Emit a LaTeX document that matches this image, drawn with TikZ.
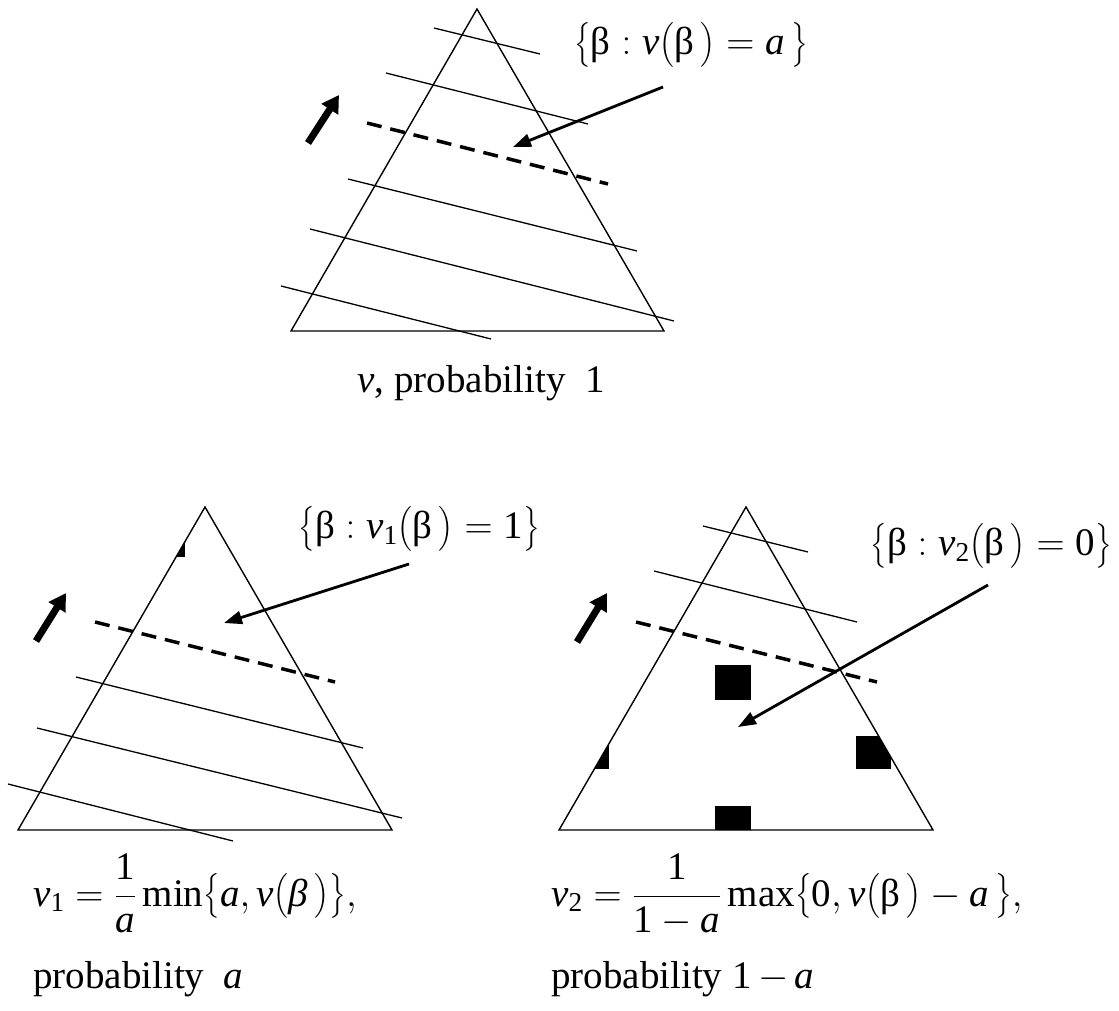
\RequirePackage{fix-cm}
\documentclass[tikz,border=0pt]{standalone}
\usepackage{amsmath}
\usepackage{fontspec}
\setmainfont{Liberation Serif}
\usetikzlibrary{arrows.meta}

\tikzset{
  tri/.style={line width=1.4pt},
  hatch/.style={line width=1.3pt},
  cut/.style={line width=3.5pt, dash pattern=on 15pt off 9pt},
  push/.style={line width=7pt, -{Triangle[length=17pt,width=19pt]}},
  ptr/.style={line width=2.8pt, -{Triangle[length=18pt,width=13pt]}},
  lbl/.style={inner sep=0pt, font=\fontsize{39}{47}\selectfont}
}

\begin{document}
\begin{tikzpicture}[x=1pt,y=-1pt]
\useasboundingbox (0,0) rectangle (1119,1011);

% v, probability 1
\begin{scope}[shift={(477,9)}]
  \draw[tri] (0,0) -- (-186,322) -- (187,322) -- cycle;
  \foreach \xa/\ya/\xb/\yb in {-43/19/63/45, -91/64/111/115, -129/170/160/242, -167/220/197/312, -196/277/14/330}
    {\draw[hatch] (\xa,\ya) -- (\xb,\yb);}
  \draw[cut] (-110,114) -- (131,175);
  \draw[push] (-169,134) -- (-138,86);
\end{scope}

% v_1, probability a
\begin{scope}[shift={(205,507)}]
  \begin{scope}
    \clip (0,0) -- (-187,323) -- (187,323) -- cycle;
    \fill (-55,15) rectangle (-20,50);
  \end{scope}
  \draw[tri] (0,0) -- (-187,323) -- (187,323) -- cycle;
  \foreach \xa/\ya/\xb/\yb in {-129/170/158/241, -168/221/197/311, -197/277/28/334}
    {\draw[hatch] (\xa,\ya) -- (\xb,\yb);}
  \draw[cut] (-110,115) -- (130,175);
  \draw[push] (-169,134) -- (-139,86);
\end{scope}

% v_2, probability 1-a
\begin{scope}[shift={(746,507)}]
  \begin{scope}
    \clip (0,0) -- (-187,323) -- (187,323) -- cycle;
    \fill (-31,158) rectangle (5,193);
    \fill (110,229) rectangle (145,262);
    \fill (-173,229) rectangle (-137,262);
    \fill (-31,299) rectangle (5,334);
  \end{scope}
  \draw[tri] (0,0) -- (-187,323) -- (187,323) -- cycle;
  \foreach \xa/\ya/\xb/\yb in {-43/19/62/45, -92/64/111/115}
    {\draw[hatch] (\xa,\ya) -- (\xb,\yb);}
  \draw[cut] (-110,115) -- (131,175);
  \draw[push] (-169,135) -- (-139,86);
\end{scope}

\node[lbl] (set0) at (691,45) {$\bigl\{\text{β} : \textit{v}\bigl(\text{β}\,\bigr) = \textit{a}\,\bigr\}$};
\node[lbl, anchor=base] (cap0) at (481,392) {\textit{v}, probability~~1};
\node[lbl] (set1) at (419,529) {$\bigl\{\text{β} : \textit{v}_{\text{1}}\bigl(\text{β}\,\bigr) = \text{1}\bigr\}$};
\node[lbl] (set2) at (991,546) {$\bigl\{\text{β} : \textit{v}_{\text{2}}\bigl(\text{β}\,\bigr) = \text{0}\bigr\}$};
\node[lbl, anchor=base west] (fml1) at (33,906) {$\textit{v}_{\text{1}} = \dfrac{\text{1}}{\textit{a}}\,\text{min}\bigl\{\textit{a},\textit{v}\bigl(\textit{β}\,\bigr)\bigr\},$};
\node[lbl, anchor=base west] (cap1) at (33,988) {probability~~\textit{a}};
\node[lbl, anchor=base west] (fml2) at (551,906) {$\textit{v}_{\text{2}} = \dfrac{\text{1}}{\text{1}-\textit{a}}\,\text{max}\bigl\{\text{0},\textit{v}\bigl(\text{β}\,\bigr)-\textit{a}\,\bigr\},$};
\node[lbl, anchor=base west] (cap2) at (551,988) {probability 1$\,-\,$\textit{a}};

\coordinate (t0) at (663,87);
\coordinate (h0) at (513,147);
\coordinate (t1) at (409,564);
\coordinate (h1) at (224,623);
\coordinate (t2) at (988,585);
\coordinate (h2) at (738,727);
\draw[ptr] (t0) -- (h0);
\draw[ptr] (t1) -- (h1);
\draw[ptr] (t2) -- (h2);
\end{tikzpicture}
\end{document}
